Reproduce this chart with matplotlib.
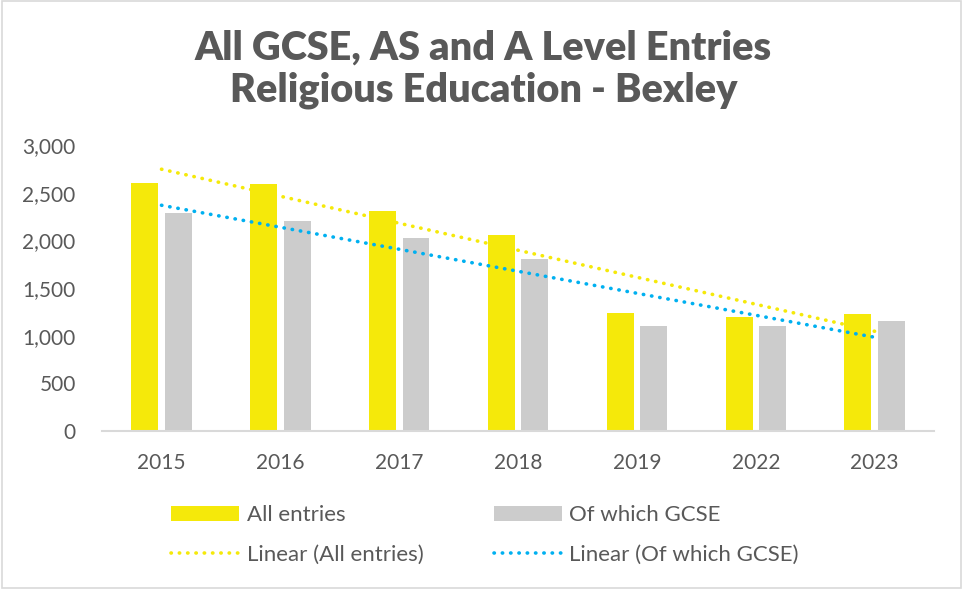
#!/usr/bin/env python

import matplotlib
matplotlib.use("Agg")
import matplotlib.pyplot as plt
from matplotlib.patches import Rectangle
import numpy as np

# Values
years = ["2015", "2016", "2017", "2018", "2019", "2022", "2023"]
all_entries = [2600, 2592, 2308, 2060, 1238, 1196, 1228]
gcse_entries = [2284, 2207, 2025, 1808, 1102, 1102, 1157]
# Excel trendline end points (first and last category)
trend_all = [2746, 1046]
trend_gcse = [2368, 983]

YELLOW = "#F5E90A"
GREY = "#CCCCCC"
BLUE = "#00B0F0"
TEXT = "#595959"

plt.rcParams["font.family"] = ["Lato", "DejaVu Sans"]

def main():
  fig = plt.figure(figsize=(9.63, 5.89), dpi=100)
  ax = fig.add_axes([0.106, 0.2683, 0.864, 0.4855])

  x = np.arange(len(years))
  width = 0.227
  off = 0.141
  b1 = ax.bar(x - off, all_entries, width, color=YELLOW, label="All entries")
  b2 = ax.bar(x + off, gcse_entries, width, color=GREY, label="Of which GCSE")

  dots = dict(linestyle=(0, (0.1, 2.2)), dash_capstyle="round", linewidth=2.6)
  l1, = ax.plot([x[0], x[-1]], trend_all, color=YELLOW, label="Linear (All entries)", **dots)
  l2, = ax.plot([x[0], x[-1]], trend_gcse, color=BLUE, label="Linear (Of which GCSE)", **dots)

  ax.set_xlim(-0.5, len(years) - 0.5)
  ax.set_ylim(0, 3000)
  ax.set_yticks(range(0, 3001, 500))
  ax.set_yticklabels(["{:,}".format(v) for v in range(0, 3001, 500)])
  ax.set_xticks(x)
  ax.set_xticklabels(years)
  ax.tick_params(axis="both", length=0, labelsize=15, colors=TEXT)
  ax.tick_params(axis="y", pad=19)
  ax.tick_params(axis="x", pad=16)
  for s in ["top", "right", "left"]:
    ax.spines[s].set_visible(False)
  ax.spines["bottom"].set_color("#D9D9D9")
  ax.spines["bottom"].set_linewidth(1.5)

  fig.text(0.502, 0.950, "All GCSE, AS and A Level Entries\nReligious Education - Bexley",
           ha="center", va="top", fontsize=28.5, fontweight="heavy", color=TEXT,
           linespacing=1.17)

  leg = fig.legend([b1, l1, b2, l2],
                   ["All entries", "Linear (All entries)", "Of which GCSE", "Linear (Of which GCSE)"],
                   ncol=2, loc="upper left", frameon=False, fontsize=16,
                   handlelength=3.06, handleheight=0.65, handletextpad=0.32,
                   columnspacing=3.2, labelspacing=0.9, labelcolor=TEXT,
                   borderpad=0, borderaxespad=0)
  leg.set_bbox_to_anchor((0.178, 1 - 505 / 589), transform=fig.transFigure)

  fig.patches.append(Rectangle((0.002, 0.002), 0.996, 0.996, transform=fig.transFigure,
                               fill=False, edgecolor="#D9D9D9", linewidth=1.2))

  fig.savefig("out.png", dpi=100)

if __name__ == "__main__":
  main()
